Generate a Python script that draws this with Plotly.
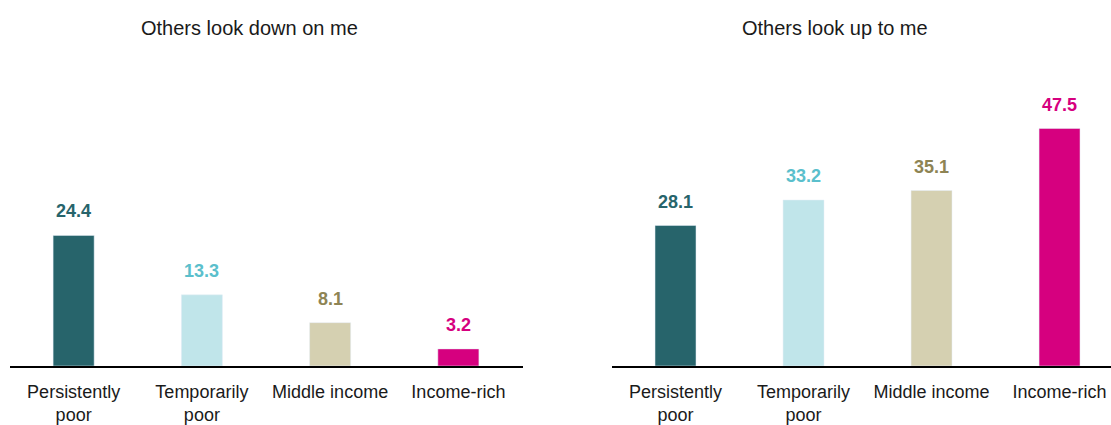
import plotly.graph_objects as go

# Income groups and the share (%) reporting each perception
categories = ["Persistently<br>poor", "Temporarily<br>poor", "Middle income", "Income-rich"]
look_down = [24.4, 13.3, 8.1, 3.2]
look_up = [28.1, 33.2, 35.1, 47.5]
panel_titles = ["Others look down on me", "Others look up to me"]

bar_colors = ["#27646B", "#C0E5EA", "#D5D0B1", "#D6007F"]
label_colors = ["#27646B", "#5BBFCC", "#8E8454", "#D6007F"]

FONT = "Liberation Sans Narrow, Arial Narrow, Liberation Sans, Arial, sans-serif"
W, H = 1111, 425

fig = go.Figure()
fig.add_trace(go.Bar(x=categories, y=look_down, marker_color=bar_colors,
                     xaxis="x", yaxis="y", width=0.32, hoverinfo="skip"))
fig.add_trace(go.Bar(x=categories, y=look_up, marker_color=bar_colors,
                     xaxis="x2", yaxis="y2", width=0.32, hoverinfo="skip"))

# Value labels above each bar
annotations = []
for vals, xr, yr in [(look_down, "x", "y"), (look_up, "x2", "y2")]:
    for cat, v, c in zip(categories, vals, label_colors):
        annotations.append(dict(x=cat, y=v, xref=xr, yref=yr, text=f"<b>{v:.1f}</b>",
                                showarrow=False, yanchor="bottom", yshift=12,
                                font=dict(family=FONT, size=18, color=c)))

# Panel titles
annotations.append(dict(x=249.5 / W, y=1 - 28 / H, xref="paper", yref="paper",
                        text=panel_titles[0], showarrow=False, xanchor="center", yanchor="middle",
                        font=dict(family=FONT, size=20, color="#1a1a1a")))
annotations.append(dict(x=834.5 / W, y=1 - 28 / H, xref="paper", yref="paper",
                        text=panel_titles[1], showarrow=False, xanchor="center", yanchor="middle",
                        font=dict(family=FONT, size=20, color="#1a1a1a")))

axis_common = dict(showgrid=False, zeroline=False, showline=True, linecolor="#000000",
                   linewidth=2, ticks="", ticklabelstandoff=8,
                   tickfont=dict(family=FONT, size=18, color="#1a1a1a"),
                   fixedrange=True)
y_common = dict(showgrid=False, zeroline=False, showline=False, showticklabels=False,
                fixedrange=True)

y_bottom = (H - 366) / H
y_top = (H - 60) / H

fig.update_layout(
    width=W, height=H, margin=dict(l=0, r=0, t=0, b=0),
    paper_bgcolor="white", plot_bgcolor="white", showlegend=False,
    xaxis=dict(domain=[9.5 / W, 522.5 / W], range=[-0.5, 3.5], **axis_common),
    xaxis2=dict(domain=[611.5 / W, 1.0], range=[-0.5, 3.402], **axis_common),
    yaxis=dict(domain=[y_bottom, y_top], range=[0, 306 / 5.35], anchor="x", **y_common),
    yaxis2=dict(domain=[y_bottom, y_top], range=[0, 306 / 5.0], anchor="x2", **y_common),
    annotations=annotations,
)

fig.write_html("out.html")
